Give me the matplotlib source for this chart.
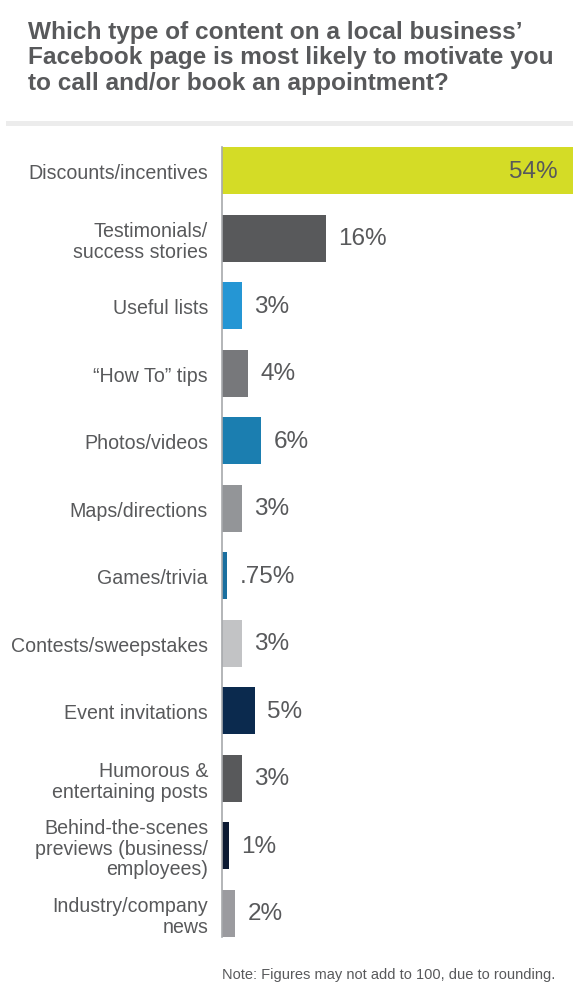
from matplotlib import pyplot
from matplotlib.patches import Rectangle

categories = [
    "Discounts/incentives",
    "Testimonials/\nsuccess stories",
    "Useful lists",
    "\u201cHow To\u201d tips",
    "Photos/videos",
    "Maps/directions",
    "Games/trivia",
    "Contests/sweepstakes",
    "Event invitations",
    "Humorous &\nentertaining posts",
    "Behind-the-scenes\npreviews (business/\nemployees)",
    "Industry/company\nnews",
]
values = [54, 16, 3, 4, 6, 3, 0.75, 3, 5, 3, 1, 2]
value_labels = ["54%", "16%", "3%", "4%", "6%", "3%", ".75%", "3%", "5%", "3%", "1%", "2%"]
colors = [
    "#d4dc26", "#58595b", "#2596d4", "#77787b", "#1b7eb0", "#939598",
    "#1a6f9f", "#c2c3c5", "#0b2a4e", "#58595b", "#0c1a33", "#9b9b9f",
]

text_color = "#58595b"
W, H = 573, 987

pyplot.rcParams["font.family"] = ["Liberation Sans", "DejaVu Sans"]

fig = pyplot.figure(figsize=(W / 100, H / 100), dpi=100)

# title (baseline of the last line)
fig.text(
    28 / W, 1 - 90 / H,
    "Which type of content on a local business\u2019\n"
    "Facebook page is most likely to motivate you\n"
    "to call and/or book an appointment?",
    fontsize=17.6, fontweight="bold", color=text_color,
    ha="left", va="baseline", linespacing=1.15,
)

# separator band
fig.add_artist(Rectangle(
    (6 / W, 1 - 127 / H), 1 - 6 / W, 5 / H,
    transform=fig.transFigure, color="#ececec", lw=0,
))

ax = fig.add_axes([222 / W, 1 - 937.75 / H, 1 - 222 / W, 789.75 / H])
y = list(range(len(categories)))
ax.barh(y, values, height=0.696, color=colors)
ax.set_xlim(0, 54)
ax.set_ylim(len(categories) - 0.65, -0.35)

for s in ["top", "right", "bottom"]:
    ax.spines[s].set_visible(False)
ax.spines["left"].set_color("#a7a9ac")
ax.spines["left"].set_linewidth(1.2)
ax.set_xticks([])
ax.set_yticks(y)
ax.set_yticklabels(categories, fontsize=14.1, color=text_color, linespacing=1.1)
ax.tick_params(axis="y", length=0, pad=10)

for i, (v, lab) in enumerate(zip(values, value_labels)):
    if i == 0:
        ax.annotate(
            lab, (v, i), xytext=(-11, 0), textcoords="offset points",
            ha="right", va="center", fontsize=17.5, color=text_color,
        )
    else:
        ax.annotate(
            lab, (v, i), xytext=(9, 0), textcoords="offset points",
            ha="left", va="center", fontsize=17.5, color=text_color,
        )

fig.text(
    222 / W, 1 - 979 / H,
    "Note: Figures may not add to 100, due to rounding.",
    fontsize=10.5, color=text_color, ha="left", va="baseline",
)

pyplot.savefig("out.png", dpi=100)
